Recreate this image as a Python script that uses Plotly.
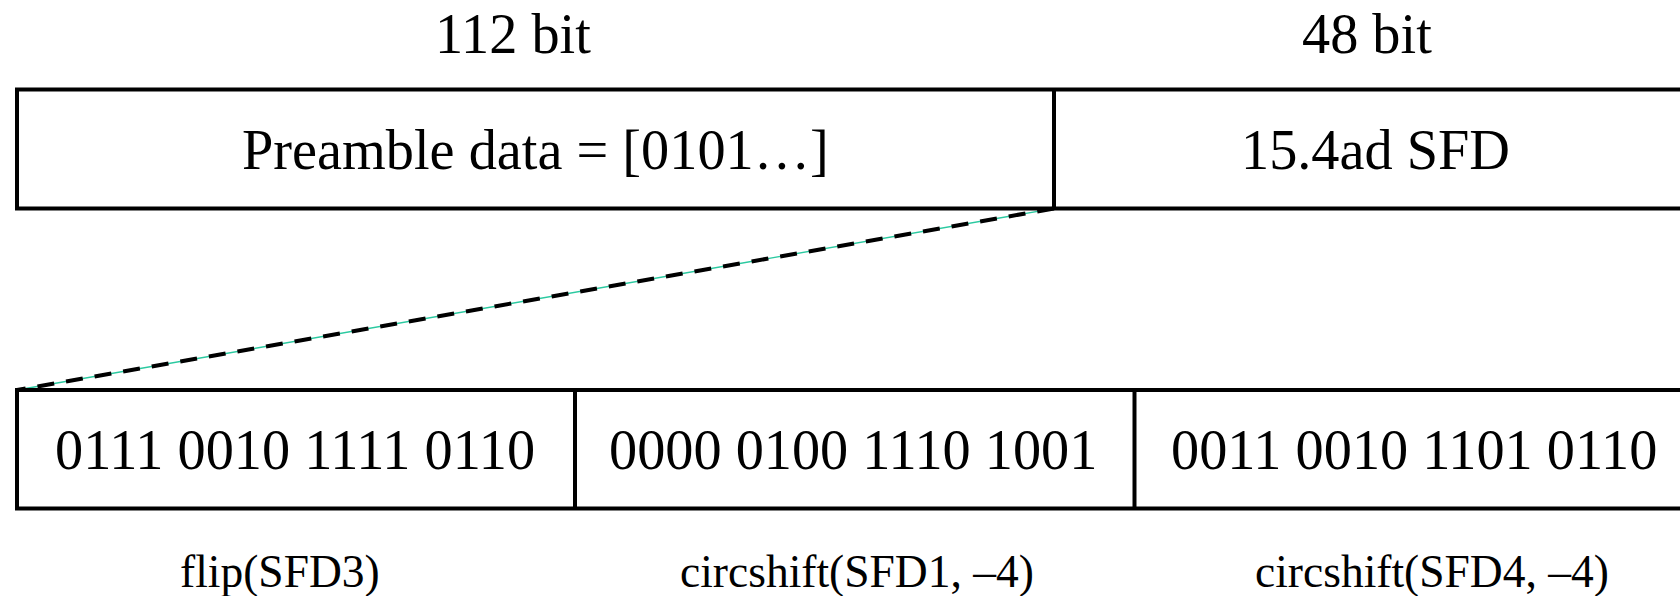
import plotly.graph_objects as go

# ---- content ----
bit_labels = ["112 bit", "48 bit"]
top_labels = ["Preamble data = [0101…]", "15.4ad SFD"]
seq_labels = ["0111 0010 1111 0110", "0000 0100 1110 1001", "0011 0010 1101 0110"]
op_labels = ["flip(SFD3)", "circshift(SFD1, –4)", "circshift(SFD4, –4)"]

# ---- layout geometry (pixels) ----
W, H = 1680, 596
LEFT, RIGHT = 17, 1700
top_y0, top_y1 = 89.5, 208.5
top_div = [1054]
bot_y0, bot_y1 = 390, 508.5
bot_div = [575, 1134.5]

bit_x = [513, 1367]
bit_y = 34
top_x = [535, 1375]
top_ty = 150
seq_x = [295, 853, 1414]
seq_y = 450
op_x = [280, 857, 1432]
op_y = 571

FONT = "Liberation Serif, Times New Roman, serif"
LW = 4
BIG = 56.3
SMALL = 45.5

fig = go.Figure()

# connector: thin teal line under a black dashed line
conn_x = [top_div[0], LEFT]
conn_y = [top_y1, bot_y0]
fig.add_trace(go.Scatter(x=conn_x, y=conn_y, mode="lines",
                         line=dict(color="#2bc9a0", width=1.4),
                         hoverinfo="skip", showlegend=False))
fig.add_trace(go.Scatter(x=conn_x, y=conn_y, mode="lines",
                         line=dict(color="black", width=4, dash="17px,12px"),
                         hoverinfo="skip", showlegend=False))

shapes = []
def hline(x0, x1, y):
    shapes.append(dict(type="line", xref="x", yref="y", x0=x0, x1=x1, y0=y, y1=y,
                       line=dict(color="black", width=LW)))
def vline(x, y0, y1):
    shapes.append(dict(type="line", xref="x", yref="y", x0=x, x1=x, y0=y0, y1=y1,
                       line=dict(color="black", width=LW)))

for yy in (top_y0, top_y1):
    hline(LEFT - LW / 2, RIGHT, yy)
vline(LEFT, top_y0, top_y1)
for xx in top_div:
    vline(xx, top_y0, top_y1)

for yy in (bot_y0, bot_y1):
    hline(LEFT - LW / 2, RIGHT, yy)
vline(LEFT, bot_y0, bot_y1)
for xx in bot_div:
    vline(xx, bot_y0, bot_y1)

annotations = []
def txt(x, y, s, size):
    annotations.append(dict(x=x, y=y, xref="x", yref="y", text=s, showarrow=False,
                            xanchor="center", yanchor="middle",
                            font=dict(family=FONT, size=size, color="black")))

for x, s in zip(bit_x, bit_labels):
    txt(x, bit_y, s, BIG)
for x, s in zip(top_x, top_labels):
    txt(x, top_ty, s, BIG)
for x, s in zip(seq_x, seq_labels):
    txt(x, seq_y, s, BIG)
for x, s in zip(op_x, op_labels):
    txt(x, op_y, s, SMALL)

fig.update_layout(
    width=W, height=H,
    margin=dict(l=0, r=0, t=0, b=0),
    paper_bgcolor="white", plot_bgcolor="white",
    xaxis=dict(range=[0, W], visible=False, fixedrange=True),
    yaxis=dict(range=[H, 0], visible=False, fixedrange=True),
    shapes=shapes, annotations=annotations,
    showlegend=False,
)

fig.write_html("out.html", config={"displayModeBar": False},
               post_script="document.body.style.margin='0';document.body.style.overflow='hidden';")
